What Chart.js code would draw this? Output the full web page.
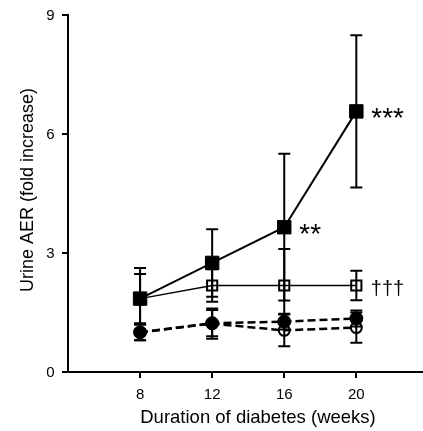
<!DOCTYPE html>
<html>
<head>
<meta charset="utf-8">
<script src="https://cdn.jsdelivr.net/npm/chart.js@4"></script>
<style>
html,body{margin:0;padding:0;background:#fff;}
</style>
</head>
<body>
<canvas id="c" width="423" height="431"></canvas>
<script>
// ---- data ----
const weeks = [8, 12, 16, 20];
const xTicks = [8, 12, 16, 20];
const yTicks = [0, 3, 6, 9];
const diabetic = [1.85, 2.75, 3.65, 6.57];
const diabeticErr = [0.62, 0.85, 1.85, 1.92];
const treated = [1.85, 2.18, 2.18, 2.18];
const treatedErr = [0.77, 0.41, 0.92, 0.37];
const control = [1.0, 1.23, 1.27, 1.35];
const controlErr = [0.2, 0.33, 0.2, 0.2];
const controlTreated = [1.0, 1.22, 1.05, 1.12];
const controlTreatedErr = [0.2, 0.38, 0.4, 0.38];
const yTitle = 'Urine AER (fold increase)';
const xTitle = 'Duration of diabetes (weeks)';
const marks = [
  {text: '***', series: 0, index: 3},
  {text: '**', series: 0, index: 2},
  {text: '†††', series: 1, index: 3}
];

const FONT = 'Liberation Sans';
Chart.defaults.font.family = FONT;
Chart.defaults.color = '#000';
const errs = [diabeticErr, treatedErr, controlErr, controlTreatedErr];
const pts = arr => arr.map((v, i) => ({x: weeks[i], y: v}));

const errorBars = {
  id: 'errorBars',
  beforeDatasetsDraw(chart) {
    const {ctx, scales: {x, y}} = chart;
    ctx.save();
    ctx.strokeStyle = '#000';
    ctx.lineWidth = 2;
    ctx.setLineDash([]);
    chart.data.datasets.forEach((ds, si) => {
      ds.data.forEach((p, i) => {
        const e = errs[si][i];
        const px = x.getPixelForValue(p.x);
        const yt = y.getPixelForValue(p.y + e);
        const yb = y.getPixelForValue(p.y - e);
        ctx.beginPath();
        ctx.moveTo(px, yt); ctx.lineTo(px, yb);
        ctx.moveTo(px - 6, yt); ctx.lineTo(px + 6, yt);
        ctx.moveTo(px - 6, yb); ctx.lineTo(px + 6, yb);
        ctx.stroke();
      });
    });
    ctx.restore();
  }
};

const labelsPlugin = {
  id: 'labelsPlugin',
  afterDatasetsDraw(chart) {
    const {ctx, scales: {x, y}} = chart;
    ctx.save();
    ctx.fillStyle = '#000';
    // tick labels, placed through the scales
    ctx.font = '15px ' + FONT;
    ctx.textBaseline = 'alphabetic';
    ctx.textAlign = 'center';
    x.ticks.forEach(t => ctx.fillText(String(t.value), x.getPixelForValue(t.value), 398.5));
    ctx.textAlign = 'right';
    y.ticks.forEach(t => ctx.fillText(String(t.value), 54.5, y.getPixelForValue(t.value) + 5.4));
    // significance marks
    marks.forEach(m => {
      const p = chart.data.datasets[m.series].data[m.index];
      const px = x.getPixelForValue(p.x);
      const py = y.getPixelForValue(p.y);
      ctx.textAlign = 'left';
      ctx.textBaseline = 'alphabetic';
      if (m.text.indexOf('*') >= 0) {
        ctx.font = '28px ' + FONT;
        ctx.fillText(m.text, px + 15, py + 16);
      } else {
        ctx.font = '20px ' + FONT;
        ctx.fillText(m.text, px + 14.5, py + 9);
      }
    });
    // axis titles
    ctx.textAlign = 'center';
    ctx.textBaseline = 'alphabetic';
    ctx.font = '18.5px ' + FONT;
    ctx.fillText(xTitle, 258, 423);
    ctx.font = '18px ' + FONT;
    ctx.translate(33, 190);
    ctx.rotate(-Math.PI / 2);
    ctx.fillText(yTitle, 0, 0);
    ctx.restore();
  }
};

new Chart(document.getElementById('c'), {
  type: 'line',
  data: {
    datasets: [
      {data: pts(diabetic), borderColor: '#000', borderWidth: 2, backgroundColor: '#000',
       pointStyle: 'rect', pointRadius: 9.5, pointBorderWidth: 1, pointBackgroundColor: '#000', pointBorderColor: '#000'},
      {data: pts(treated), borderColor: '#000', borderWidth: 1.5, backgroundColor: 'rgba(0,0,0,0)',
       pointStyle: 'rect', pointRadius: 7.2, pointBorderWidth: 2, pointBackgroundColor: 'rgba(0,0,0,0)', pointBorderColor: '#000'},
      {data: pts(control), borderColor: '#000', borderWidth: 2.5, borderDash: [8, 4], backgroundColor: '#000',
       pointStyle: 'circle', pointRadius: 6.5, pointBorderWidth: 1, pointBackgroundColor: '#000', pointBorderColor: '#000'},
      {data: pts(controlTreated), borderColor: '#000', borderWidth: 2.5, borderDash: [8, 4], backgroundColor: 'rgba(0,0,0,0)',
       pointStyle: 'circle', pointRadius: 5.5, pointBorderWidth: 2, pointBackgroundColor: 'rgba(0,0,0,0)', pointBorderColor: '#000'}
    ]
  },
  options: {
    responsive: false,
    animation: false,
    devicePixelRatio: 1,
    layout: {autoPadding: false, padding: {top: 15, right: 0, left: 0, bottom: 0}},
    plugins: {legend: {display: false}, tooltip: {enabled: false}},
    scales: {
      x: {
        type: 'linear', min: 4, max: 23.7,
        afterBuildTicks: s => { s.ticks = xTicks.map(v => ({value: v})); },
        afterFit: s => { s.height = 59; s.paddingLeft = 0; s.paddingRight = 0; s.paddingTop = 0; s.paddingBottom = 0; },
        grid: {drawOnChartArea: false, drawTicks: true, tickLength: 6, color: '#000', lineWidth: 2},
        border: {display: true, color: '#000', width: 2},
        ticks: {display: false}
      },
      y: {
        type: 'linear', min: 0, max: 9,
        afterBuildTicks: s => { s.ticks = yTicks.map(v => ({value: v})); },
        afterFit: s => { s.width = 68; s.paddingLeft = 0; s.paddingRight = 0; s.paddingTop = 0; s.paddingBottom = 0; },
        grid: {drawOnChartArea: false, drawTicks: true, tickLength: 6, color: '#000', lineWidth: 2},
        border: {display: true, color: '#000', width: 2},
        ticks: {display: false}
      }
    }
  },
  plugins: [errorBars, labelsPlugin]
});
</script>
</body>
</html>
